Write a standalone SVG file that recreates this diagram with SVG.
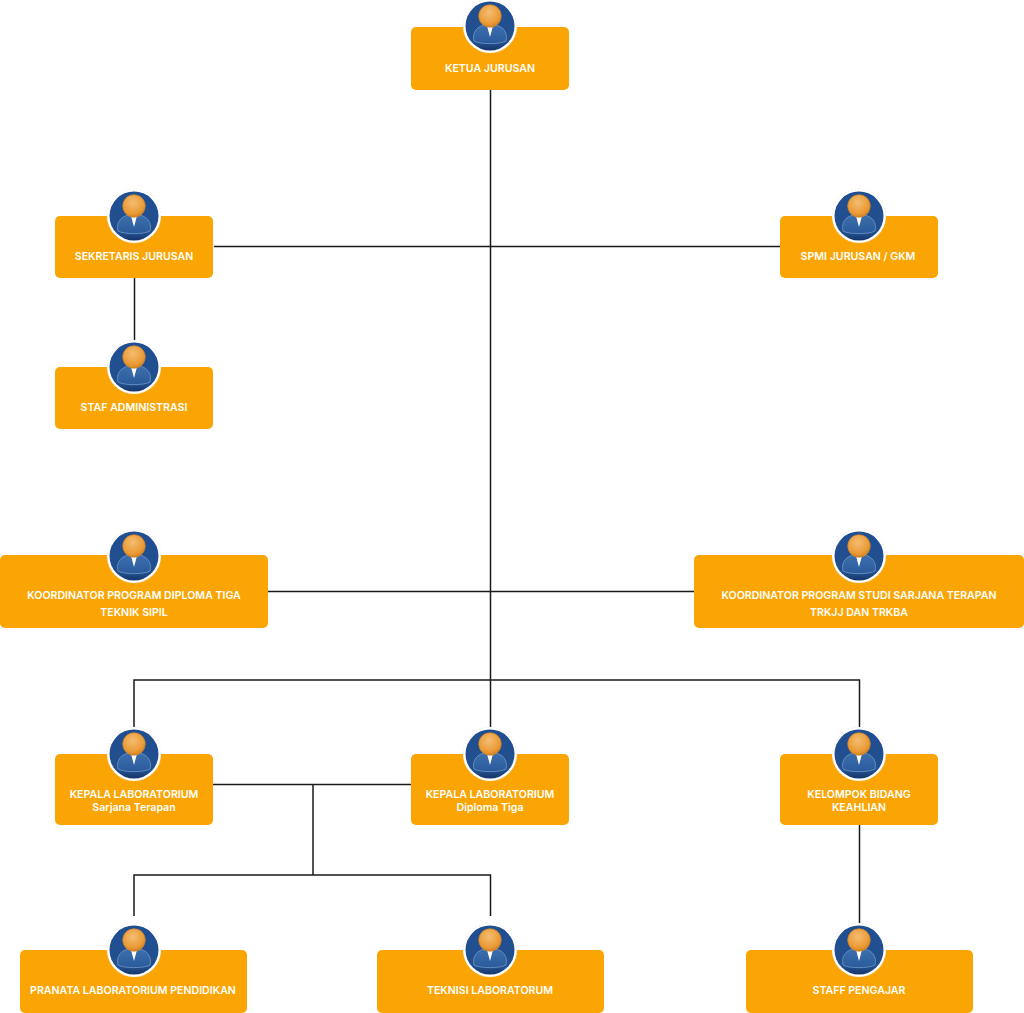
<svg xmlns="http://www.w3.org/2000/svg" width="1024" height="1013" viewBox="0 0 1024 1013">
<style>
.box{fill:#fba504}
.lbl{font-family:"Inter","Noto Sans",sans-serif;font-size:10.6px;font-weight:600;fill:#fff;text-anchor:middle}
.con{fill:none;stroke:#1a1a1a;stroke-width:1.5}
</style>
<defs>
<radialGradient id="hd" cx="0.45" cy="0.35" r="0.7"><stop offset="0" stop-color="#f5bd72"/><stop offset="0.7" stop-color="#ea9a35"/><stop offset="1" stop-color="#c97a1c"/></radialGradient>
<linearGradient id="bg" x1="0" y1="0" x2="0" y2="1"><stop offset="0" stop-color="#1f4e92"/><stop offset="0.85" stop-color="#234f8d"/><stop offset="1" stop-color="#16356a"/></linearGradient>
<linearGradient id="bd" x1="0" y1="0" x2="0" y2="1"><stop offset="0" stop-color="#3d6fae"/><stop offset="1" stop-color="#2a5a9a"/></linearGradient>
<symbol id="person" overflow="visible" viewBox="-28 -28 56 56" width="56" height="56">
<circle r="27" fill="#fff" stroke="#d8d8d8" stroke-width="0.6" stroke-dasharray="1 2.500"/>
<circle r="24.500" fill="url(#bg)"/>
<path d="M-16 15C-18 6-13 1-6 -1L6 -1C13 1 18 6 16 15C10 18.500-10 18.500-16 15Z" fill="url(#bd)" stroke="#6f97c6" stroke-width="0.8"/>
<path d="M-3.500 -2L0 11L3.500 -2Z" fill="#fff"/>
<circle cy="-10" r="11.300" fill="url(#hd)" stroke="#c98226" stroke-width="0.7"/>
</symbol>
</defs>
<g id="connectors" class="con">
<path d="M490.500 90V754"/>
<path d="M214 246.500H780"/>
<path d="M134.500 278V340"/>
<path d="M268 591.500H694"/>
<path d="M134 754V680H859.500V754"/>
<path d="M213 784.500H411"/>
<path d="M313 784V875"/>
<path d="M134 916V875H490.500V916"/>
<path d="M859.500 825V925"/>
</g>
<g id="ketua"><rect class="box" x="411" y="27" width="158" height="63" rx="5"/><use href="#person" x="462" y="-2"/><text class="lbl" x="490" y="72">KETUA JURUSAN</text></g>
<g id="sekretaris"><rect class="box" x="55" y="216" width="158" height="62" rx="5"/><use href="#person" x="106" y="188"/><text class="lbl" x="134" y="260">SEKRETARIS JURUSAN</text></g>
<g id="spmi"><rect class="box" x="780" y="216" width="158" height="62" rx="5"/><use href="#person" x="831" y="188"/><text class="lbl" x="858" y="260">SPMI JURUSAN / GKM</text></g>
<g id="staf-admin"><rect class="box" x="55" y="367" width="158" height="62" rx="5"/><use href="#person" x="106" y="339"/><text class="lbl" x="134" y="411">STAF ADMINISTRASI</text></g>
<g id="koord-d3"><rect class="box" x="0" y="555" width="268" height="73" rx="5"/><use href="#person" x="106" y="528"/><text class="lbl" x="134" y="599">KOORDINATOR PROGRAM DIPLOMA TIGA</text><text class="lbl" x="134" y="616">TEKNIK SIPIL</text></g>
<g id="koord-st"><rect class="box" x="694" y="555" width="330" height="73" rx="5"/><use href="#person" x="831" y="528"/><text class="lbl" x="859" y="599">KOORDINATOR PROGRAM STUDI SARJANA TERAPAN</text><text class="lbl" x="859" y="616">TRKJJ DAN TRKBA</text></g>
<g id="kalab-st"><rect class="box" x="55" y="754" width="158" height="71" rx="5"/><use href="#person" x="106" y="726"/><text class="lbl" x="134" y="798">KEPALA LABORATORIUM</text><text class="lbl" x="134" y="811">Sarjana Terapan</text></g>
<g id="kalab-d3"><rect class="box" x="411" y="754" width="158" height="71" rx="5"/><use href="#person" x="462" y="726"/><text class="lbl" x="490" y="798">KEPALA LABORATORIUM</text><text class="lbl" x="490" y="811">Diploma Tiga</text></g>
<g id="kbk"><rect class="box" x="780" y="754" width="158" height="71" rx="5"/><use href="#person" x="831" y="726"/><text class="lbl" x="859" y="798">KELOMPOK BIDANG</text><text class="lbl" x="859" y="811">KEAHLIAN</text></g>
<g id="pranata"><rect class="box" x="20" y="950" width="227" height="63" rx="5"/><use href="#person" x="106" y="922"/><text class="lbl" x="133" y="994">PRANATA LABORATORIUM PENDIDIKAN</text></g>
<g id="teknisi"><rect class="box" x="377" y="950" width="227" height="63" rx="5"/><use href="#person" x="462" y="922"/><text class="lbl" x="490" y="994">TEKNISI LABORATORUM</text></g>
<g id="pengajar"><rect class="box" x="746" y="950" width="227" height="63" rx="5"/><use href="#person" x="831" y="922"/><text class="lbl" x="859" y="994">STAFF PENGAJAR</text></g>
</svg>
